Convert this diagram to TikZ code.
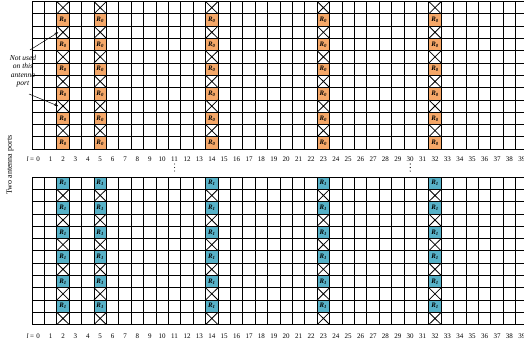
\documentclass[tikz,border=0pt]{standalone}
\usepackage{fontspec}
\setmainfont{Liberation Serif}
\usetikzlibrary{arrows.meta, positioning}
\definecolor{portzero}{RGB}{245,168,105}
\definecolor{portone}{RGB}{88,178,200}

\begin{document}
\begin{tikzpicture}[x=1pt, y=-1pt, line width=0.8pt,
  cellR/.style={font=\fontsize{6.8}{7}\selectfont\bfseries\itshape, inner sep=0pt},
  colnum/.style={font=\fontsize{7}{8}\selectfont, inner sep=0pt},
  note/.style={font=\fontsize{7.5}{8.5}\selectfont\itshape, align=center, inner sep=0pt}]
  \clip (0,0) rectangle (524,341);
  \def\cw{12.4}
  \def\rh{12.3}
  \def\lft{32}
  \def\topy{1.5}
  \def\boty{177}

  % --- ANTENNA PORT 0 ---
  \foreach \c in {2,5,14,23,32} {
    \foreach \r in {0,...,11} {
      \pgfmathsetmacro{\xa}{\lft+\c*\cw}
      \pgfmathsetmacro{\ya}{\topy+\r*\rh}
      \ifodd\r\relax
        \fill[portzero] (\xa,\ya) rectangle ++(\cw,\rh);
        \node[cellR] (rz-\c-\r) at (\xa+\cw/2,\ya+\rh/2) {R\textsubscript{0}};
      \else
        \draw (\xa,\ya) -- ++(\cw,\rh) (\xa+\cw,\ya) -- ++(-\cw,\rh);
      \fi
    }
  }
  % Grid
  \foreach \i in {0,...,41} \draw (\lft+\i*\cw,\topy) -- ++(0,12*\rh);
  \foreach \j in {0,...,12} \draw (\lft,\topy+\j*\rh) -- ++(41*\cw,0);
  % Subcarrier numbers
  \foreach \i in {0,...,39} \node[colnum] (ta-\i) at (\lft+\i*\cw+\cw/2,159) {\i};
  \node[colnum, left=1.5pt of ta-0] (tl) {\textit{l} =};

  % --- ANTENNA PORT 1 ---
  \foreach \c in {2,5,14,23,32} {
    \foreach \r in {0,...,11} {
      \pgfmathsetmacro{\xa}{\lft+\c*\cw}
      \pgfmathsetmacro{\ya}{\boty+\r*\rh}
      \ifodd\r\relax
        \draw (\xa,\ya) -- ++(\cw,\rh) (\xa+\cw,\ya) -- ++(-\cw,\rh);
      \else
        \fill[portone] (\xa,\ya) rectangle ++(\cw,\rh);
        \node[cellR] (ro-\c-\r) at (\xa+\cw/2,\ya+\rh/2) {R\textsubscript{1}};
      \fi
    }
  }
  % Grid
  \foreach \i in {0,...,41} \draw (\lft+\i*\cw,\boty) -- ++(0,12*\rh);
  \foreach \j in {0,...,12} \draw (\lft,\boty+\j*\rh) -- ++(41*\cw,0);
  % Subcarrier numbers
  \foreach \i in {0,...,39} \node[colnum] (ba-\i) at (\lft+\i*\cw+\cw/2,336) {\i};
  \node[colnum, left=1.5pt of ba-0] (bl) {\textit{l} =};

  % Dots between the grids
  \foreach \cx in {11.5,30.5}
    \foreach \dy in {164,167.5,171}
      \fill (\lft+\cx*\cw,\dy) circle (0.55);

  % Side label
  \node[rotate=90, font=\fontsize{8}{9}\selectfont] (ports) at (10,165) {Two antenna ports};

  % Unused resource elements
  \node[note] (unused) at (23,71) {Not used\\on this\\antenna\\port};
  \coordinate (upa) at (30,50);
  \coordinate (upb) at (\lft+2*\cw+1.5,\topy+2.5*\rh);
  \coordinate (loa) at (29,94);
  \coordinate (lob) at (\lft+2*\cw+1.5,\topy+8.5*\rh);
  \draw[-{Stealth[length=4pt,width=3pt]}, line width=0.5pt] (upa) -- (upb);
  \draw[-{Stealth[length=4pt,width=3pt]}, line width=0.5pt] (loa) -- (lob);
\end{tikzpicture}
\end{document}
